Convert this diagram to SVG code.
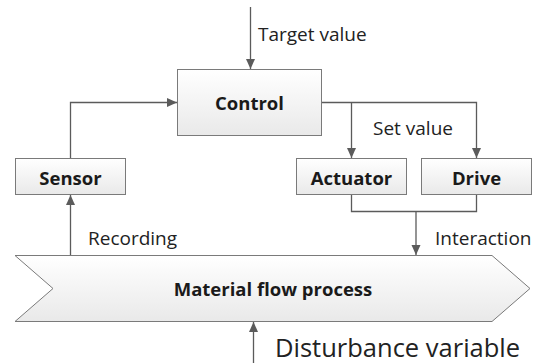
<svg xmlns="http://www.w3.org/2000/svg" width="537" height="363" viewBox="0 0 537 363">
<defs>
<linearGradient id="boxfill" x1="0" y1="0" x2="0" y2="1">
<stop offset="0" stop-color="#ffffff"/>
<stop offset="1" stop-color="#e9e9e9"/>
</linearGradient>
<marker id="arrow" markerUnits="userSpaceOnUse" markerWidth="10" markerHeight="10" viewBox="0 0 10 10" refX="10" refY="5" orient="auto">
<path d="M0,0.5 L10,5 L0,9.5 Z" fill="#5b5b5b"/>
</marker>
</defs>
<style>
.box{fill:url(#boxfill);stroke:#7a7a7a;stroke-width:1}
.line{fill:none;stroke:#5b5b5b;stroke-width:1.3}
.lbl{font-family:"Open Sans","Noto Sans",sans-serif;font-size:19px;fill:#222}
.bold{font-family:"Open Sans","Noto Sans",sans-serif;font-size:18.5px;font-weight:bold;fill:#1a1a1a;text-anchor:middle}
</style>
<g id="connectors">
<path class="line" d="M250.5,7 V69" marker-end="url(#arrow)"/>
<path class="line" d="M70.5,158 V102.5 H177" marker-end="url(#arrow)"/>
<path class="line" d="M321.5,102.5 H476.5 V158" marker-end="url(#arrow)"/>
<path class="line" d="M351.5,102.5 V158" marker-end="url(#arrow)"/>
<path class="line" d="M351.5,194.5 V211.5 H476.5 V194.5"/>
<path class="line" d="M416,211.5 V255" marker-end="url(#arrow)"/>
<path class="line" d="M70.5,256 V195" marker-end="url(#arrow)"/>
<path class="line" d="M253.5,363 V322" marker-end="url(#arrow)"/>
<text class="lbl" x="258" y="41">Target value</text>
<text class="lbl" x="373" y="135">Set value</text>
<text class="lbl" x="88" y="245">Recording</text>
<text class="lbl" x="435" y="245">Interaction</text>
<text class="lbl" x="275" y="357" style="font-size:25.5px">Disturbance variable</text>
</g>
<g id="control">
<rect class="box" x="177.5" y="69.5" width="144" height="66"/>
<text class="bold" x="249.5" y="110">Control</text>
</g>
<g id="sensor">
<rect class="box" x="15.5" y="158.5" width="110" height="36"/>
<text class="bold" x="70.5" y="185">Sensor</text>
</g>
<g id="actuator">
<rect class="box" x="296.5" y="158.5" width="110" height="36"/>
<text class="bold" x="351.5" y="185">Actuator</text>
</g>
<g id="drive">
<rect class="box" x="421.5" y="158.5" width="110" height="36"/>
<text class="bold" x="476.5" y="185">Drive</text>
</g>
<g id="process">
<polygon class="box" points="15,255.5 492,255.5 530,288.5 492,321.5 15,321.5 53,288.5"/>
<text class="bold" x="273" y="296">Material flow process</text>
</g>
</svg>
